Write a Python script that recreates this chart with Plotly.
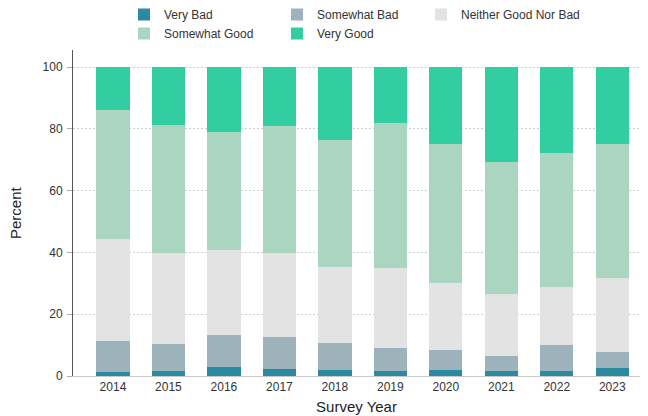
import plotly.graph_objects as go

years = ["2014", "2015", "2016", "2017", "2018", "2019", "2020", "2021", "2022", "2023"]

very_bad = [1.4, 1.7, 2.8, 2.4, 2.0, 1.5, 2.0, 1.6, 1.6, 2.6]
somewhat_bad = [10.0, 8.8, 10.6, 10.2, 8.7, 7.7, 6.4, 5.0, 8.3, 5.2]
neither = [32.8, 29.2, 27.3, 27.1, 24.5, 25.8, 21.7, 19.9, 18.8, 23.8]
somewhat_good = [41.8, 41.4, 38.2, 41.1, 41.1, 46.9, 45.1, 42.9, 43.4, 43.4]
very_good = [14.0, 18.9, 21.1, 19.2, 23.7, 18.1, 24.8, 30.6, 27.9, 25.0]

# name, values, colour, which legend column it sits in
series = [
    ("Very Bad", very_bad, "#2b8aa0", "legend"),
    ("Somewhat Bad", somewhat_bad, "#9cb3bb", "legend2"),
    ("Neither Good Nor Bad", neither, "#e3e3e3", "legend3"),
    ("Somewhat Good", somewhat_good, "#aad5c0", "legend"),
    ("Very Good", very_good, "#33cda2", "legend2"),
]

fig = go.Figure()
for name, vals, color, leg in series:
    fig.add_trace(go.Bar(
        x=years, y=vals, name=name, legend=leg,
        marker=dict(color=color, line=dict(width=0)),
    ))

font = "Liberation Sans, Arial, sans-serif"


def legend_col(x):
    return dict(
        orientation="v",
        xref="container", x=x, xanchor="left",
        yref="container", y=1.0, yanchor="top",
        font=dict(size=12, color="#333333"),
        traceorder="normal", tracegroupgap=0,
        bgcolor="rgba(0,0,0,0)",
    )


fig.update_layout(
    barmode="stack",
    bargap=0.4,
    width=648, height=416,
    margin=dict(l=73, r=8, t=50, b=40, autoexpand=False),
    plot_bgcolor="white", paper_bgcolor="white",
    font=dict(family=font, size=12, color="#333333"),
    legend=legend_col(124 / 648),
    legend2=legend_col(277 / 648),
    legend3=legend_col(421 / 648),
    xaxis=dict(
        type="category", range=[-0.72, 9.5],
        showgrid=False, ticks="", showline=True, linecolor="#c8c8c8",
        tickfont=dict(size=12, color="#333333"),
        title=dict(text="Survey Year", font=dict(size=15, color="#222222"), standoff=8),
    ),
    yaxis=dict(
        range=[0, 105.5], tickvals=[0, 20, 40, 60, 80, 100],
        showgrid=True, gridcolor="#d0d0d0", griddash="2px,2px", gridwidth=1,
        zeroline=False,
        showline=True, linecolor="#555555", linewidth=1,
        ticks="outside", ticklen=5, tickcolor="#aaaaaa",
        ticklabelstandoff=2,
        tickfont=dict(size=12, color="#333333"),
    ),
)

# y title as an annotation: the axis title gets misplaced with several legends
fig.add_annotation(
    text="Percent", textangle=-90, showarrow=False,
    xref="paper", yref="paper", x=-58 / 567, y=0.5,
    xanchor="center", yanchor="middle",
    font=dict(size=15, color="#222222"),
)

# drop the default page margin so the figure sits at the window's corner
fig.write_html("out.html", config={"displayModeBar": False},
               post_script="document.body.style.margin='0';")
